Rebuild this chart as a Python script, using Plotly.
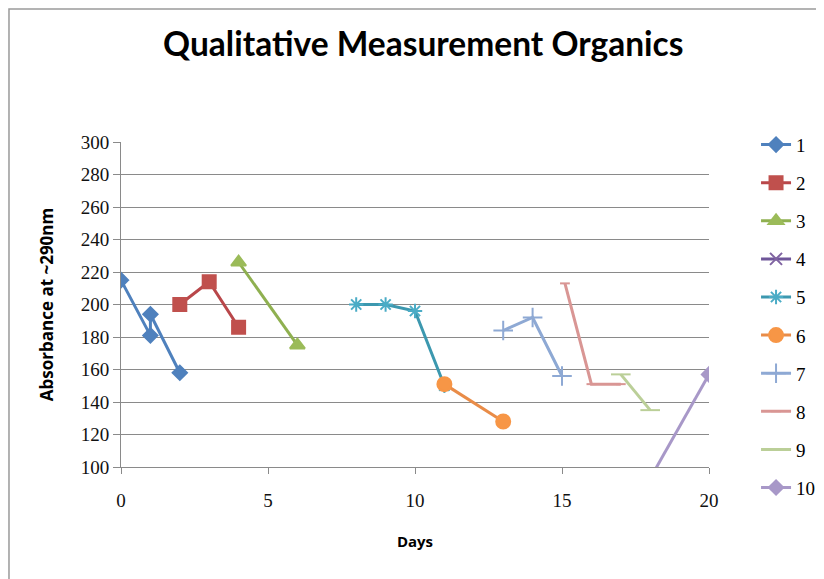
import plotly.graph_objects as go

# days / absorbance readings per sample
s1_days = [0, 1, 1, 2]
s1_abs = [215, 181, 194, 158]
s2_days = [2, 3, 4]
s2_abs = [200, 214, 186]
s3_days = [4, 6]
s3_abs = [226, 175]
s4_days = [None]
s4_abs = [None]
s5_days = [8, 9, 10, 11]
s5_abs = [200, 200, 196, 150]
s6_days = [11, 13]
s6_abs = [151, 128]
s7_days = [13, 14, 15]
s7_abs = [184, 192, 156]
s8_days = [15.1, 16, 17]
s8_abs = [213, 151, 151]
s9_days = [17, 18]
s9_abs = [157, 135]
s10_days = [18, 20]
s10_abs = [93, 157]

names = ['1', '2', '3', '4', '5', '6', '7', '8', '9', '10']
days = [s1_days, s2_days, s3_days, s4_days, s5_days,
        s6_days, s7_days, s8_days, s9_days, s10_days]
absorb = [s1_abs, s2_abs, s3_abs, s4_abs, s5_abs,
          s6_abs, s7_abs, s8_abs, s9_abs, s10_abs]

colors = ['#4F81BD', '#C0504D', '#9BBB59', '#8064A2', '#4BACC6',
          '#F79646', '#8EA9D4', '#D99694', '#BBCF98', '#A898C8']
line_colors = ['#4F81BD', '#B9474A', '#8FB050', '#6F5699', '#3C98AF',
               '#E98C48', '#8EA9D4', '#D99694', '#BBCF98', '#A898C8']
symbols = ['diamond', 'square', 'triangle-up', 'x-thin-open', 'asterisk-open',
           'circle', 'cross-thin-open', 'line-ew-open', 'line-ew-open', 'diamond']
sizes = [11, 13, 13, 12, 12, 14, 14, 7, 14, 11]

fig = go.Figure()
for i, name in enumerate(names):
    fig.add_trace(go.Scatter(
        x=days[i],
        y=absorb[i],
        name=name,
        legendgroup=name,
        mode='lines+markers',
        line={'color': line_colors[i], 'width': 3},
        marker={'symbol': symbols[i], 'size': sizes[i], 'color': colors[i],
                'line': {'color': colors[i], 'width': 2}},
    ))

tick_font = {'family': 'Liberation Serif', 'size': 19, 'color': '#111'}
label_font = {'family': 'Open Sans', 'color': 'black', 'weight': 'bold'}

# the page body adds an 8px offset, so margins are shifted to compensate
fig.update_layout(
    width=824,
    height=579,
    margin={'l': 113, 'r': 123, 't': 134, 'b': 120},
    paper_bgcolor='white',
    plot_bgcolor='white',
    title={'text': 'Qualitative Measurement Organics',
           'font': {'family': 'Lato', 'size': 33.5, 'color': 'black', 'weight': 'bold'},
           'x': 0.504, 'xanchor': 'center', 'y': 0.937, 'yanchor': 'middle'},
    xaxis={'range': [0, 20], 'tickvals': [0, 5, 10, 15, 20],
           'showgrid': False, 'zeroline': False,
           'showline': True, 'linecolor': '#8a8a8a', 'linewidth': 1,
           'ticks': 'outside', 'ticklen': 6, 'tickcolor': '#8a8a8a',
           'ticklabelstandoff': 10,
           'tickfont': tick_font,
           'title': {'text': 'Days', 'standoff': 26,
                     'font': dict(label_font, size=15)}},
    yaxis={'range': [100, 300], 'dtick': 20,
           'showgrid': True, 'gridcolor': '#8a8a8a', 'gridwidth': 1,
           'zeroline': False,
           'showline': True, 'linecolor': '#8a8a8a', 'linewidth': 1,
           'ticks': 'outside', 'ticklen': 7, 'tickcolor': '#8a8a8a',
           'ticklabelstandoff': 0,
           'tickfont': tick_font,
           'title': {'text': 'Absorbance at ~290nm', 'standoff': 22,
                     'font': dict(label_font, size=17)}},
    legend={'x': 1.08, 'xanchor': 'left', 'y': 1.05, 'yanchor': 'top',
            'font': {'family': 'Liberation Serif', 'size': 19, 'color': 'black'},
            'tracegroupgap': 10.4, 'itemwidth': 30, 'maxheight': 520},
    showlegend=True,
)

# chart-area border (only left and top edges fall inside the canvas)
fig.add_shape(type='rect', xref='paper', yref='paper',
              x0=-0.1905, x1=1.25, y0=-0.4, y1=1.4095,
              line={'color': '#9a9a9a', 'width': 1.5}, layer='below')

fig.write_html('out.html')
